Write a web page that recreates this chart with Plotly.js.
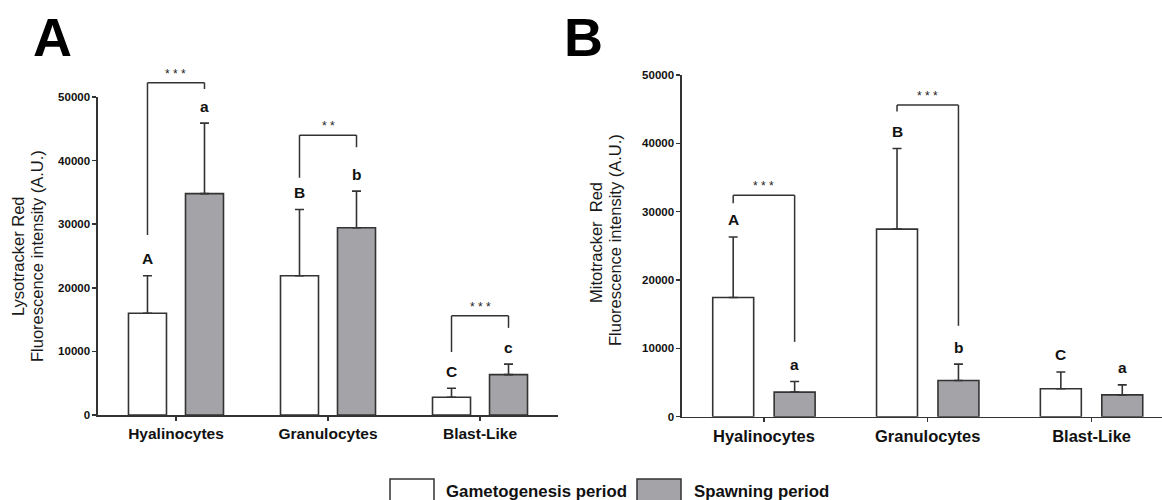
<!DOCTYPE html>
<html>
<head>
<meta charset="utf-8">
<script src="https://cdn.plot.ly/plotly-3.0.1.min.js"></script>
<style>
  html, body { margin: 0; padding: 0; background: #ffffff; }
  #chart { width: 1162px; height: 500px; }
</style>
</head>
<body>
<div id="chart"></div>
<script>
// ---------------- DATA ----------------
const categories = ["Hyalinocytes", "Granulocytes", "Blast-Like"];
const seriesNames = ["Gametogenesis period", "Spawning period"];

// Panel A – Lysotracker Red
const lysoGameto    = [16000, 21900, 2800];
const lysoGametoErr = [5900, 10400, 1400];
const lysoSpawn     = [34800, 29450, 6350];
const lysoSpawnErr  = [11100, 5750, 1650];
const lysoGametoLetters = ["A", "B", "C"];
const lysoSpawnLetters  = ["a", "b", "c"];
const lysoSigLabels = ["* * *", "* *", "* * *"];
const lysoBracketTop   = [52250, 44000, 15600];
const lysoBracketLeft  = [28300, 37300, 9900];
const lysoBracketRight = [51250, 42100, 13700];

// Panel B – Mitotracker Red
const mitoGameto    = [17450, 27450, 4100];
const mitoGametoErr = [8850, 11800, 2450];
const mitoSpawn     = [3600, 5300, 3200];
const mitoSpawnErr  = [1550, 2400, 1450];
const mitoGametoLetters = ["A", "B", "C"];
const mitoSpawnLetters  = ["a", "b", "a"];
const mitoSigLabels = ["* * *", "* * *", ""];
const mitoBracketTop   = [32400, 45600, null];
const mitoBracketLeft  = [31250, 44650, null];
const mitoBracketRight = [10950, 13300, null];

const yTitlesA = ["Lysotracker Red", "Fluorescence intensity (A.U.)"];
const yTitlesB = ["Mitotracker\u00a0 Red", "Fluorescence intensity (A.U.)"];
const panelLabels = ["A", "B"];

// ---------------- STYLE ----------------
const FONT = "Liberation Sans, Arial, Helvetica, sans-serif";
const INK = "#333333";
const GRAY = "#a4a4a8";
const W = 1162, H = 500;
const BARGAP = 0.25, BARGROUPGAP = 1 / 3;
const OFF = (1 - BARGAP) / 4; // bar centre offset within a category
const Y_RANGE = [0, 50000];
const XR_A = [-0.513, 2.513];
const XR_B = [-0.5, 2.43];

function barTrace(y, err, name, fill, xa, ya) {
  return {
    type: "bar", x: categories, y: y, name: name,
    xaxis: xa, yaxis: ya, showlegend: false, cliponaxis: false,
    marker: { color: fill, line: { color: INK, width: 1.6 } },
    error_y: { type: "data", symmetric: false, array: err,
               arrayminus: err.map(() => 0), color: INK, thickness: 1.6, width: 4.5 },
    hoverinfo: "skip"
  };
}

const data = [
  barTrace(lysoGameto, lysoGametoErr, seriesNames[0], "#ffffff", "x", "y"),
  barTrace(lysoSpawn, lysoSpawnErr, seriesNames[1], GRAY, "x", "y"),
  barTrace(mitoGameto, mitoGametoErr, seriesNames[0], "#ffffff", "x2", "y2"),
  barTrace(mitoSpawn, mitoSpawnErr, seriesNames[1], GRAY, "x2", "y2")
];

const shapes = [];
const annotations = [];

// convert axis values to axis-domain fractions (so marks above the range are not clipped)
const fx = (v, r) => (v - r[0]) / (r[1] - r[0]);
const fy = (v) => (v - Y_RANGE[0]) / (Y_RANGE[1] - Y_RANGE[0]);

function addPanel(xa, ya, xr, gm, gmErr, sp, spErr, gLet, sLet, sig, top, lEnd, rEnd) {
  const xd = xa + " domain", yd = ya + " domain";
  for (let i = 0; i < categories.length; i++) {
    const xl = i - OFF, xrt = i + OFF;
    annotations.push({ xref: xd, yref: yd, x: fx(xl, xr), y: fy(gm[i] + gmErr[i]),
      xanchor: "center", yanchor: "middle",
      yshift: 17, text: gLet[i], showarrow: false,
      font: { family: FONT, size: 15.5, weight: "bold", color: "#111" } });
    annotations.push({ xref: xd, yref: yd, x: fx(xrt, xr), y: fy(sp[i] + spErr[i]),
      xanchor: "center", yanchor: "middle",
      yshift: 17, text: sLet[i], showarrow: false,
      font: { family: FONT, size: 15.5, weight: "bold", color: "#111" } });
    if (top[i] !== null && sig[i]) {
      const ln = { color: INK, width: 1.5 };
      const x0 = fx(xl, xr), x1 = fx(xrt, xr);
      shapes.push({ type: "line", xref: xd, yref: yd, x0: x0, x1: x0, y0: fy(lEnd[i]), y1: fy(top[i]), line: ln });
      shapes.push({ type: "line", xref: xd, yref: yd, x0: x0, x1: x1, y0: fy(top[i]), y1: fy(top[i]), line: ln });
      shapes.push({ type: "line", xref: xd, yref: yd, x0: x1, x1: x1, y0: fy(rEnd[i]), y1: fy(top[i]), line: ln });
      annotations.push({ xref: xd, yref: yd, x: fx(i, xr), y: fy(top[i]),
        xanchor: "center", yanchor: "middle", yshift: 9,
        text: sig[i], showarrow: false, font: { family: FONT, size: 12, color: "#222" } });
    }
  }
}
addPanel("x", "y", XR_A, lysoGameto, lysoGametoErr, lysoSpawn, lysoSpawnErr,
  lysoGametoLetters, lysoSpawnLetters, lysoSigLabels, lysoBracketTop, lysoBracketLeft, lysoBracketRight);
addPanel("x2", "y2", XR_B, mitoGameto, mitoGametoErr, mitoSpawn, mitoSpawnErr,
  mitoGametoLetters, mitoSpawnLetters, mitoSigLabels, mitoBracketTop, mitoBracketLeft, mitoBracketRight);

// y titles (two lines each, rotated)
function yTitle(text, px, pyMid) {
  annotations.push({ xref: "paper", yref: "paper", x: px / W, y: 1 - pyMid / H,
    xanchor: "center", yanchor: "middle", textangle: -90, text: text, showarrow: false,
    font: { family: FONT, size: 16.5, color: "#1a1a1a" } });
}
yTitle(yTitlesA[0], 18, 256);
yTitle(yTitlesA[1], 37, 256);
yTitle(yTitlesB[0], 596, 243);
yTitle(yTitlesB[1], 615, 240);

// panel letters
annotations.push({ xref: "paper", yref: "paper", x: 52 / W, y: 1 - 37 / H, xanchor: "center",
  yanchor: "middle", text: panelLabels[0], showarrow: false,
  font: { family: FONT, size: 54, weight: "bold", color: "#000" } });
annotations.push({ xref: "paper", yref: "paper", x: 583 / W, y: 1 - 37 / H, xanchor: "center",
  yanchor: "middle", text: panelLabels[1], showarrow: false,
  font: { family: FONT, size: 54, weight: "bold", color: "#000" } });

// legend (manual, to reproduce the large swatches)
const legendItems = [
  { box: [390, 434], textX: 444, fill: "#ffffff" },
  { box: [637, 681], textX: 692, fill: GRAY }
];
legendItems.forEach((it, k) => {
  shapes.push({ type: "rect", xref: "paper", yref: "paper",
    x0: it.box[0] / W, x1: it.box[1] / W, y0: 1 - 505 / H, y1: 1 - 479 / H,
    fillcolor: it.fill, line: { color: INK, width: 1.5 } });
  annotations.push({ xref: "paper", yref: "paper", x: it.textX / W, y: 1 - 491 / H,
    xanchor: "left", yanchor: "middle", text: seriesNames[k], showarrow: false,
    font: { family: FONT, size: 16.8, weight: "bold", color: "#111" } });
});

function xAxis(domain, range, yAnchor, size) {
  return { domain: domain, range: range, anchor: yAnchor, type: "category",
    categoryorder: "array", categoryarray: categories,
    showline: true, linecolor: INK, linewidth: 1.6, ticks: "outside", ticklen: 4,
    tickwidth: 1.5, tickcolor: INK, showgrid: false, zeroline: false, fixedrange: true,
    tickfont: { family: FONT, size: size, weight: "bold", color: "#111" } };
}
function yAxis(domain, xAnchor) {
  return { domain: domain, range: Y_RANGE, anchor: xAnchor, tick0: 0, dtick: 10000,
    tickformat: "d", showline: true, linecolor: INK, linewidth: 1.6, ticks: "outside",
    ticklen: 4, tickwidth: 1.5, tickcolor: INK, showgrid: false, zeroline: false, fixedrange: true,
    tickfont: { family: FONT, size: 11.5, weight: "bold", color: "#111" } };
}

const layout = {
  width: W, height: H,
  margin: { l: 0, r: 0, t: 0, b: 0 },
  paper_bgcolor: "#ffffff", plot_bgcolor: "rgba(0,0,0,0)",
  barmode: "group", bargap: BARGAP, bargroupgap: BARGROUPGAP,
  showlegend: false,
  xaxis: xAxis([98 / W, 558 / W], XR_A, "y", 15.5),
  yaxis: yAxis([1 - 415 / H, 1 - 97 / H], "x"),
  xaxis2: xAxis([682 / W, 1], XR_B, "y2", 16.5),
  yaxis2: yAxis([1 - 416.7 / H, 1 - 75 / H], "x2"),
  shapes: shapes,
  annotations: annotations,
  font: { family: FONT }
};

Plotly.newPlot("chart", data, layout, { staticPlot: true, displayModeBar: false });
</script>
</body>
</html>
